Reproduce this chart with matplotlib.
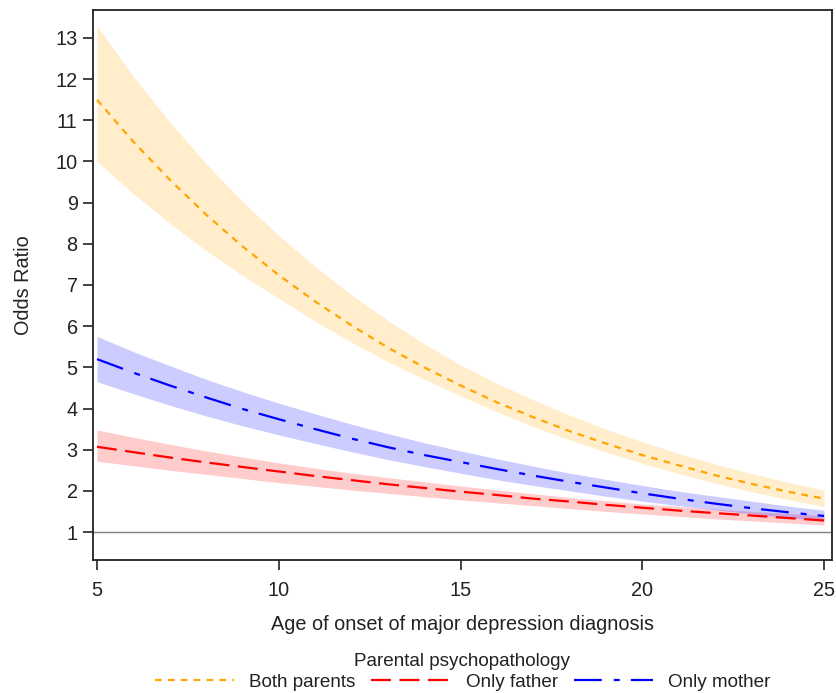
import matplotlib
matplotlib.use('Agg')
import matplotlib.pyplot as plt

plt.rcParams['font.family'] = ['Liberation Sans', 'DejaVu Sans']
plt.rcParams['font.size'] = 14.3

# age of onset (years)
age = [5, 6, 7, 8, 9, 10, 11, 12, 13, 14, 15, 16, 17, 18, 19, 20, 21, 22, 23, 24, 25]

# both parents: odds ratio and 95% band
both_or = [11.5, 10.48, 9.56, 8.71, 7.94, 7.24, 6.60, 6.02, 5.48, 5.00, 4.56,
           4.15, 3.79, 3.45, 3.15, 2.87, 2.62, 2.38, 2.17, 1.98, 1.81]
both_lo = [10.0, 9.22, 8.50, 7.84, 7.23, 6.68, 6.12, 5.61, 5.14, 4.71, 4.31,
           3.92, 3.56, 3.24, 2.94, 2.67, 2.42, 2.19, 1.98, 1.79, 1.62]
both_hi = [13.3, 12.07, 10.96, 9.95, 9.03, 8.20, 7.45, 6.76, 6.14, 5.57, 5.06,
           4.61, 4.21, 3.84, 3.50, 3.19, 2.91, 2.65, 2.42, 2.21, 2.02]

# only father
father_or = [3.07, 2.94, 2.81, 2.69, 2.58, 2.47, 2.36, 2.26, 2.16, 2.07, 1.98,
             1.90, 1.81, 1.74, 1.66, 1.59, 1.52, 1.46, 1.40, 1.34, 1.28]
father_lo = [2.72, 2.61, 2.50, 2.40, 2.30, 2.20, 2.11, 2.02, 1.94, 1.86, 1.78,
             1.71, 1.64, 1.57, 1.50, 1.44, 1.38, 1.32, 1.27, 1.22, 1.17]
father_hi = [3.48, 3.30, 3.13, 2.97, 2.82, 2.68, 2.55, 2.43, 2.32, 2.22, 2.12,
             2.02, 1.93, 1.84, 1.76, 1.68, 1.62, 1.56, 1.50, 1.45, 1.40]

# only mother
mother_or = [5.20, 4.87, 4.56, 4.27, 3.99, 3.74, 3.50, 3.27, 3.06, 2.87, 2.70,
             2.53, 2.37, 2.22, 2.08, 1.94, 1.81, 1.69, 1.58, 1.48, 1.39]
mother_lo = [4.65, 4.36, 4.08, 3.82, 3.58, 3.36, 3.15, 2.95, 2.76, 2.59, 2.43,
             2.27, 2.13, 2.00, 1.87, 1.75, 1.64, 1.54, 1.44, 1.35, 1.27]
mother_hi = [5.75, 5.38, 5.04, 4.71, 4.41, 4.13, 3.87, 3.62, 3.39, 3.17, 2.97,
             2.78, 2.60, 2.43, 2.28, 2.13, 1.99, 1.87, 1.75, 1.63, 1.53]

xticks = [5, 10, 15, 20, 25]
yticks = list(range(1, 14))

fig = plt.figure(figsize=(8.36, 6.93), dpi=100)
ax = fig.add_axes([93/836, 1-560/693, 739/836, 550/693])

# reference line
ax.axhline(1, color='#808080', lw=1.0, zorder=1)

# confidence bands
ax.fill_between(age, both_lo, both_hi, color='#FFA500', alpha=0.2, lw=0, zorder=2)
ax.fill_between(age, father_lo, father_hi, color='#FF0000', alpha=0.2, lw=0, zorder=2)
ax.fill_between(age, mother_lo, mother_hi, color='#0000FF', alpha=0.2, lw=0, zorder=2)

# estimate lines
ax.plot(age, both_or, color='#FFA500', lw=1.6, dashes=(3.0, 2.8), label='Both parents', zorder=3)
ax.plot(age, father_or, color='#FF0000', lw=1.6, dashes=(9.0, 3.8), label='Only father', zorder=3)
ax.plot(age, mother_or, color='#0000FF', lw=1.6, dashes=(12.5, 5.4, 2.7, 5.0), label='Only mother', zorder=3)

ax.set_xlim(4.89, 25.22)
ax.set_ylim(0.32, 13.68)
ax.set_xticks(xticks)
ax.set_yticks(yticks)

for s in ax.spines.values():
    s.set_linewidth(1.3)
    s.set_color('#222222')
ax.tick_params(direction='out', length=7, width=1.2, color='#222222',
               labelcolor='#222222', labelsize=14.3)
ax.tick_params(axis='y', pad=4)
ax.tick_params(axis='x', pad=8)

ax.set_ylabel('Odds Ratio', fontsize=14.3, color='#222222', labelpad=16)
ax.set_xlabel('Age of onset of major depression diagnosis', fontsize=14.3, color='#222222', labelpad=11)

leg = ax.legend(loc='upper center', bbox_to_anchor=(0.5, -0.145), ncol=3,
                frameon=False, title='Parental psychopathology', title_fontsize=13.6,
                fontsize=13.6, handlelength=4.2, handletextpad=0.79,
                columnspacing=0.85, borderpad=0.2, labelspacing=0.2)
for t in leg.get_texts():
    t.set_color('#222222')
leg.get_title().set_color('#222222')

fig.savefig('out.png', dpi=100)
